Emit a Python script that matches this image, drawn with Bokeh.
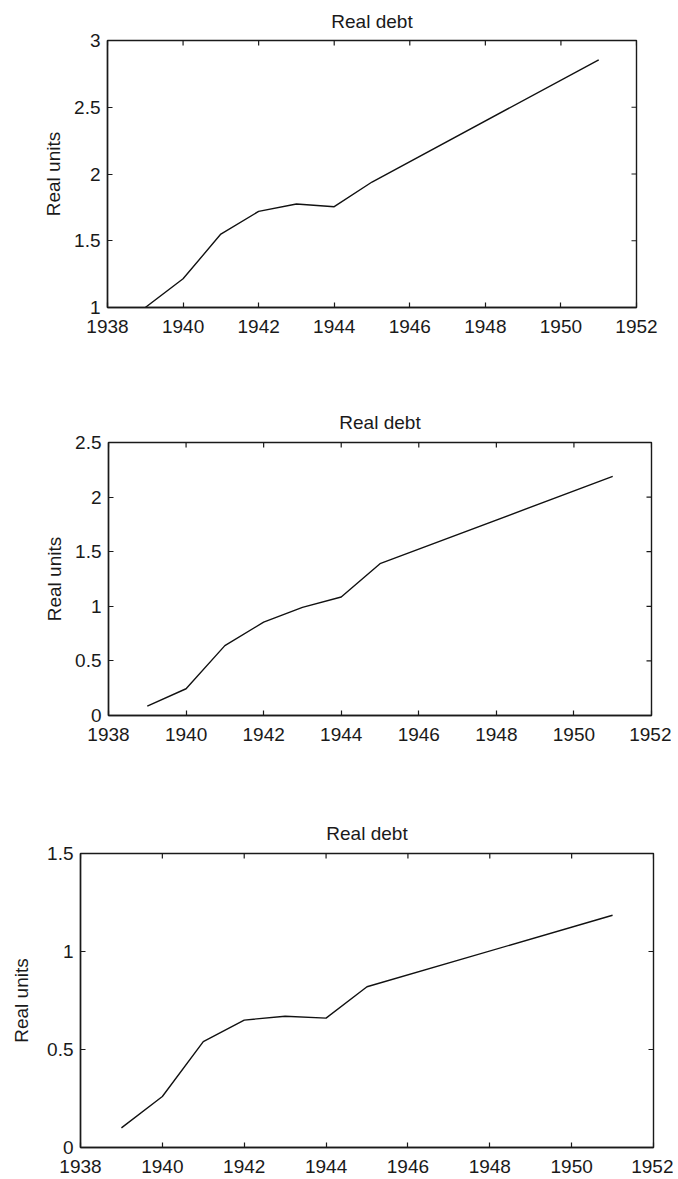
import math
from bokeh.plotting import figure
from bokeh.models import FixedTicker, Range1d
from bokeh.embed import file_html
from bokeh.resources import INLINE

# ---------------- data ----------------
years = [1939, 1940, 1941, 1942, 1943, 1944, 1945, 1951]
debt_a = [1.00, 1.215, 1.55, 1.72, 1.775, 1.755, 1.94, 2.855]
debt_b = [0.085, 0.245, 0.64, 0.855, 0.99, 1.085, 1.39, 2.19]
debt_c = [0.10, 0.26, 0.54, 0.65, 0.67, 0.66, 0.82, 1.185]

xticks = [1938, 1940, 1942, 1944, 1946, 1948, 1950, 1952]
yticks_a = [1, 1.5, 2, 2.5, 3]
ylabels_a = ["1", "1.5", "2", "2.5", "3"]
yticks_b = [0, 0.5, 1, 1.5, 2, 2.5]
ylabels_b = ["0", "0.5", "1", "1.5", "2", "2.5"]
yticks_c = [0, 0.5, 1, 1.5]
ylabels_c = ["0", "0.5", "1", "1.5"]

title_text = "Real debt"
ylabel_text = "Real units"

FONT = "Liberation Sans"
FS = "19px"
INK = "#1a1a1a"
XMIN, XMAX = 1938, 1952


def style_axis(ax):
    ax.axis_line_color = INK
    ax.axis_line_width = 1.4
    ax.major_tick_in = 5
    ax.major_tick_out = 0
    ax.major_tick_line_color = INK
    ax.major_tick_line_width = 1.2
    ax.minor_tick_line_color = None
    ax.major_label_text_font = FONT
    ax.major_label_text_color = INK
    ax.major_label_text_font_size = FS


def make_panel(vals, yticks, ylabels, ymin, ymax, fw, fh, left, top, bottom, right, lab_standoff, t_standoff):
    p = figure(width=left + fw + right, height=top + fh + bottom,
               min_border_left=left, min_border_top=top,
               min_border_bottom=bottom, min_border_right=right,
               x_range=Range1d(XMIN, XMAX), y_range=Range1d(ymin, ymax),
               output_backend="svg", toolbar_location=None,
               background_fill_color="white", border_fill_color="white")
    p.outline_line_color = INK
    p.outline_line_width = 1.4
    p.grid.visible = False

    p.title.text = title_text
    p.title.align = "center"
    p.title.vertical_align = "middle"
    p.title.text_font = FONT
    p.title.text_font_size = FS
    p.title.text_font_style = "normal"
    p.title.text_color = INK
    p.title.standoff = t_standoff

    p.xaxis.ticker = FixedTicker(ticks=xticks)
    p.yaxis.ticker = FixedTicker(ticks=yticks)
    p.yaxis.major_label_overrides = dict(zip(yticks, ylabels))
    style_axis(p.xaxis[0])
    style_axis(p.yaxis[0])
    p.xaxis.major_label_standoff = 12
    p.yaxis.major_label_standoff = 7

    p.yaxis.axis_label = ylabel_text
    p.yaxis.axis_label_text_font = FONT
    p.yaxis.axis_label_text_font_size = FS
    p.yaxis.axis_label_text_font_style = "normal"
    p.yaxis.axis_label_text_color = INK
    p.yaxis.axis_label_standoff = lab_standoff

    # inward tick marks on the top and right edges (MATLAB box style)
    p.ray(x=xticks, y=[ymax] * len(xticks), length=5, length_units="screen",
          angle=-math.pi / 2, line_color=INK, line_width=1.2)
    p.ray(x=[XMAX] * len(yticks), y=yticks, length=5, length_units="screen",
          angle=math.pi, line_color=INK, line_width=1.2)

    p.line(years, vals, line_color="#111111", line_width=1.4)
    return p


p1 = make_panel(debt_a, yticks_a, ylabels_a, 1, 3, 529, 267, 107, 40, 93, 30, 7, 16)
p2 = make_panel(debt_b, yticks_b, ylabels_b, 0, 2.5, 543, 273, 108, 42, 95, 20, 7, 18)
p3 = make_panel(debt_c, yticks_c, ylabels_c, 0, 1.5, 573, 294, 80, 43, 30, 20, 12, 18)

open("out.html", "w").write(file_html([p1, p2, p3], INLINE))
